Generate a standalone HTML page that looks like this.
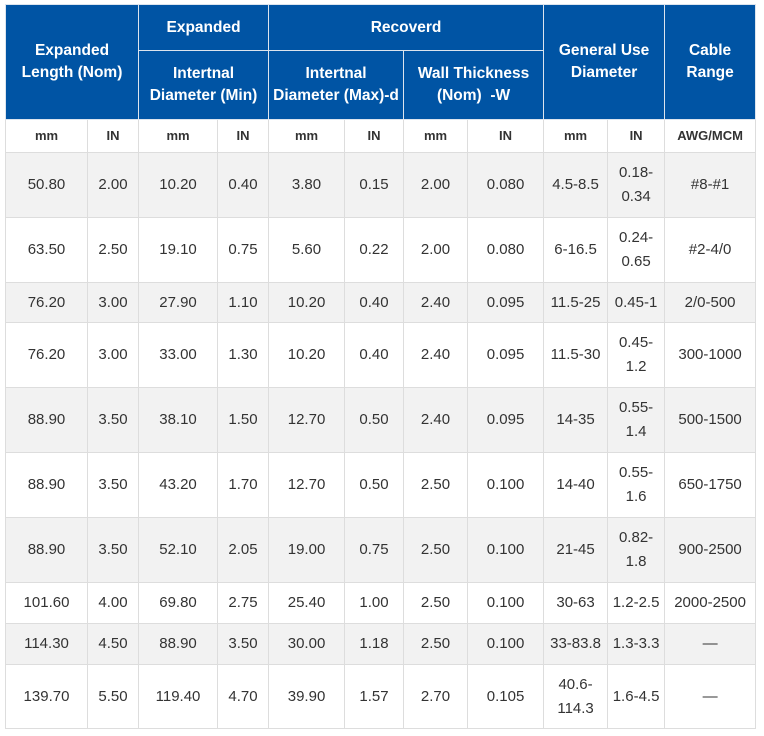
<!DOCTYPE html>
<html><head><meta charset="utf-8"><style>
body{margin:0;background:#fff;width:764px;height:736px;overflow:hidden}
table{position:absolute;left:5px;top:4px;border-collapse:collapse;table-layout:fixed;width:750px;font-family:"Liberation Sans",Arial,sans-serif;font-size:15px;color:#333}
td,th{border:1px solid #ddd;text-align:center;vertical-align:middle;padding:0 2px;line-height:24px;overflow:hidden}
th{background:#0054a4;color:#fff;font-weight:bold;font-size:15.5px;line-height:22px;border-color:#dce4ee}
tr.u td{font-weight:bold;font-size:13px;color:#333}
tr.g td{background:#f2f2f2}
</style></head><body>
<table>
<colgroup><col style="width:82px"><col style="width:51px"><col style="width:79px"><col style="width:51px"><col style="width:76px"><col style="width:59px"><col style="width:64px"><col style="width:76px"><col style="width:64px"><col style="width:57px"><col style="width:91px"></colgroup>
<tr style="height:46px">
<th rowspan="2" colspan="2">Expanded Length (Nom)</th>
<th colspan="2">Expanded</th>
<th colspan="4">Recoverd</th>
<th rowspan="2" colspan="2">General Use Diameter</th>
<th rowspan="2">Cable Range</th>
</tr>
<tr style="height:69px">
<th colspan="2">Intertnal Diameter (Min)</th>
<th colspan="2">Intertnal Diameter (Max)-d</th>
<th colspan="2">Wall Thickness (Nom) &nbsp;-W</th>
</tr>
<tr class="u" style="height:33px"><td>mm</td><td>IN</td><td>mm</td><td>IN</td><td>mm</td><td>IN</td><td>mm</td><td>IN</td><td>mm</td><td>IN</td><td>AWG/MCM</td></tr>
<tr class="g" style="height:65px"><td>50.80</td><td>2.00</td><td>10.20</td><td>0.40</td><td>3.80</td><td>0.15</td><td>2.00</td><td>0.080</td><td>4.5-8.5</td><td>0.18-<br>0.34</td><td>#8-#1</td></tr>
<tr style="height:65px"><td>63.50</td><td>2.50</td><td>19.10</td><td>0.75</td><td>5.60</td><td>0.22</td><td>2.00</td><td>0.080</td><td>6-16.5</td><td>0.24-<br>0.65</td><td>#2-4/0</td></tr>
<tr class="g" style="height:40px"><td>76.20</td><td>3.00</td><td>27.90</td><td>1.10</td><td>10.20</td><td>0.40</td><td>2.40</td><td>0.095</td><td>11.5-25</td><td>0.45-1</td><td>2/0-500</td></tr>
<tr style="height:65px"><td>76.20</td><td>3.00</td><td>33.00</td><td>1.30</td><td>10.20</td><td>0.40</td><td>2.40</td><td>0.095</td><td>11.5-30</td><td>0.45-<br>1.2</td><td>300-1000</td></tr>
<tr class="g" style="height:65px"><td>88.90</td><td>3.50</td><td>38.10</td><td>1.50</td><td>12.70</td><td>0.50</td><td>2.40</td><td>0.095</td><td>14-35</td><td>0.55-<br>1.4</td><td>500-1500</td></tr>
<tr style="height:65px"><td>88.90</td><td>3.50</td><td>43.20</td><td>1.70</td><td>12.70</td><td>0.50</td><td>2.50</td><td>0.100</td><td>14-40</td><td>0.55-<br>1.6</td><td>650-1750</td></tr>
<tr class="g" style="height:65px"><td>88.90</td><td>3.50</td><td>52.10</td><td>2.05</td><td>19.00</td><td>0.75</td><td>2.50</td><td>0.100</td><td>21-45</td><td>0.82-<br>1.8</td><td>900-2500</td></tr>
<tr style="height:41px"><td>101.60</td><td>4.00</td><td>69.80</td><td>2.75</td><td>25.40</td><td>1.00</td><td>2.50</td><td>0.100</td><td>30-63</td><td>1.2-2.5</td><td>2000-2500</td></tr>
<tr class="g" style="height:41px"><td>114.30</td><td>4.50</td><td>88.90</td><td>3.50</td><td>30.00</td><td>1.18</td><td>2.50</td><td>0.100</td><td>33-83.8</td><td>1.3-3.3</td><td>—</td></tr>
<tr style="height:64px"><td>139.70</td><td>5.50</td><td>119.40</td><td>4.70</td><td>39.90</td><td>1.57</td><td>2.70</td><td>0.105</td><td>40.6-<br>114.3</td><td>1.6-4.5</td><td>—</td></tr>
</table>
</body></html>
